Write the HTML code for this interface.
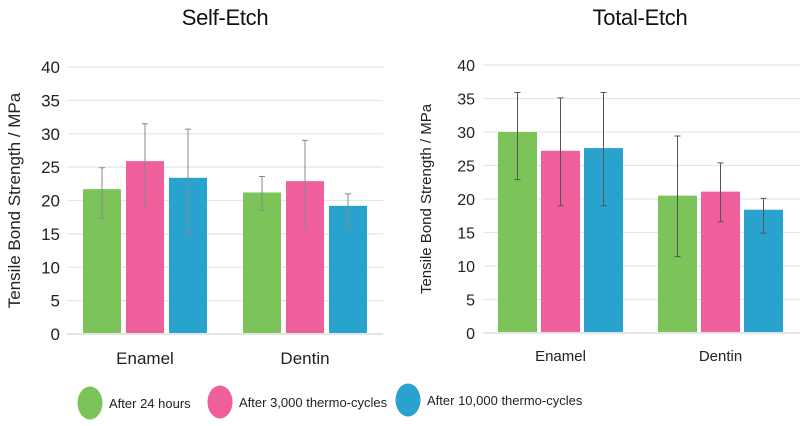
<!DOCTYPE html>
<html><head><meta charset="utf-8">
<style>
html,body{margin:0;padding:0;background:#fff;}
svg{display:block;font-family:"Liberation Sans",sans-serif;}
</style></head>
<body>
<svg id="chart" width="800" height="426" viewBox="0 0 800 426" xmlns="http://www.w3.org/2000/svg">
<text x="225" y="25" text-anchor="middle" font-size="22" fill="#111" style="letter-spacing:-0.3px">Self-Etch</text>
<text x="640" y="25" text-anchor="middle" font-size="22" fill="#111" style="letter-spacing:-0.3px">Total-Etch</text>
<g id="legend">
  <g><ellipse cx="90" cy="403" rx="12.5" ry="16.5" fill="#7cc35a"/><text x="109" y="408" font-size="13" fill="#222">After 24 hours</text></g>
  <g><ellipse cx="220" cy="402" rx="12.5" ry="16.5" fill="#ef5f9c"/><text x="239" y="407" font-size="13" fill="#222">After 3,000 thermo-cycles</text></g>
  <g><ellipse cx="408" cy="400" rx="12.5" ry="16.5" fill="#27a3cd"/><text x="427" y="405" font-size="13" fill="#222">After 10,000 thermo-cycles</text></g>
</g>
</svg>
<script>
const categories = ["Enamel", "Dentin"];
const seriesNames = ["After 24 hours", "After 3,000 thermo-cycles", "After 10,000 thermo-cycles"];
const yTicks = [0, 5, 10, 15, 20, 25, 30, 35, 40];
// Self-Etch: values [series][category]
const selfValues = [[21.7, 21.2], [25.9, 22.9], [23.4, 19.2]];
const selfLow = [[17.4, 18.5], [19.1, 15.9], [15.0, 15.9]];
const selfHigh = [[24.9, 23.6], [31.5, 29.0], [30.7, 21.0]];
// Total-Etch
const totalValues = [[30.0, 20.5], [27.2, 21.1], [27.6, 18.4]];
const totalLow = [[22.9, 11.4], [19.0, 16.6], [19.0, 14.9]];
const totalHigh = [[35.9, 29.4], [35.1, 25.4], [35.9, 20.1]];

const colors = ["#7cc35a", "#ef5f9c", "#27a3cd"];
const svg = document.getElementById('chart');
const NS = "http://www.w3.org/2000/svg";
function mk(tag, attrs, parent) {
  const e = document.createElementNS(NS, tag);
  for (const k in attrs) e.setAttribute(k, attrs[k]);
  (parent || svg).appendChild(e);
  return e;
}
function panel(cfg, values, low, high) {
  const g = mk('g', {});
  
  
  const y = v => cfg.y0 - (v / 40) * (cfg.y0 - cfg.y40);
  yTicks.forEach(t => {
    const ln = mk('line', {x1: cfg.x0, x2: cfg.x1, y1: y(t), y2: y(t), stroke: t === 0 ? '#d4d4d4' : '#e6e6e6', 'stroke-width': 1.3}, g);
    
    
    const tx = mk('text', {x: cfg.tickX, y: y(t) + 6, 'text-anchor': 'end', 'font-size': cfg.tickFs, fill: '#222'}, g);
    tx.textContent = t;
    
    
  });
  const yt = mk('text', {x: 0, y: 0, 'text-anchor': 'middle', 'font-size': cfg.titleFs, fill: '#222', transform: `translate(${cfg.titleX},${y(20)}) rotate(-90)`}, g);
  yt.textContent = 'Tensile  Bond Strength / MPa';
  
  
  categories.forEach((c, ci) => {
    const start = cfg.groupStart[ci];
    seriesNames.forEach((s, si) => {
      const bx = start + si * cfg.step;
      const r = mk('rect', {x: bx, y: y(values[si][ci]), width: cfg.bw, height: y(0) - y(values[si][ci]) - 1, fill: colors[si]}, g);
      
      
      const cx = bx + cfg.bw / 2;
      const eb = mk('path', {d: `M${cx} ${y(low[si][ci])}V${y(high[si][ci])}M${cx-3} ${y(low[si][ci])}H${cx+3}M${cx-3} ${y(high[si][ci])}H${cx+3}`, stroke: cfg.errColor, 'stroke-width': 1, fill: 'none'}, g);
      
      
    });
    const cl = mk('text', {x: start + cfg.step + cfg.bw / 2, y: cfg.catY, 'text-anchor': 'middle', 'font-size': cfg.catFs, fill: '#222'}, g);
    cl.textContent = c;
    
    
  });
}
panel({name: 'self-etch-panel', x0: 67, x1: 383, y0: 334, y40: 67, tickX: 60, tickFs: 17, titleX: 20, titleFs: 17,
  groupStart: [83, 243], step: 43, bw: 38, catY: 364, catFs: 17, errColor: '#888'}, selfValues, selfLow, selfHigh);
panel({name: 'total-etch-panel', x0: 483, x1: 800, y0: 333, y40: 65, tickX: 475, tickFs: 16, titleX: 431, titleFs: 15,
  groupStart: [498, 658], step: 43, bw: 39, catY: 361, catFs: 15, errColor: '#555'}, totalValues, totalLow, totalHigh);
</script>
</body></html>
